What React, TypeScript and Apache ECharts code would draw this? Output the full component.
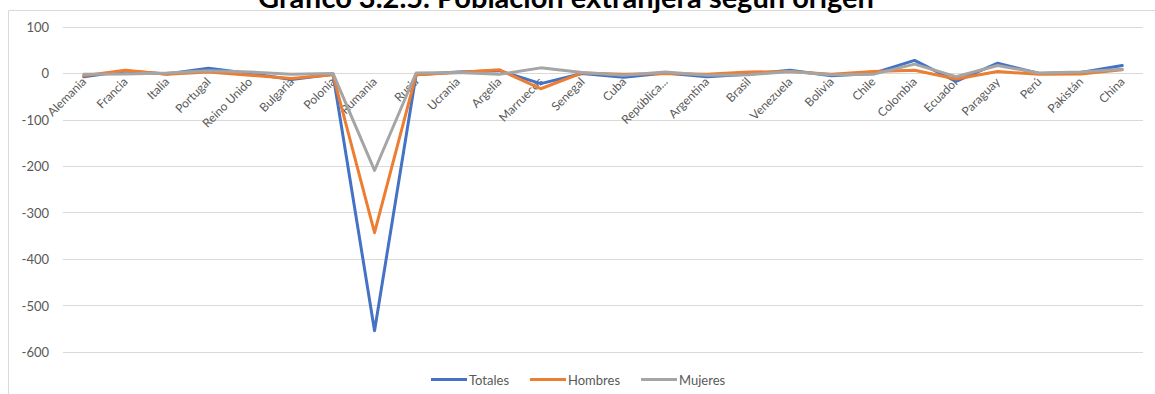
import React, { useEffect, useRef } from "react";
import * as echarts from "echarts";

const categories = [
  "Alemania", "Francia", "Italia", "Portugal", "Reino Unido", "Bulgaria", "Polonia",
  "Rumania", "Rusia", "Ucrania", "Argelia", "Marruecos", "Senegal", "Cuba",
  "República...", "Argentina", "Brasil", "Venezuela", "Bolivia", "Chile", "Colombia",
  "Ecuador", "Paraguay", "Perú", "Pakistán", "China",
];

const totales = [-7, 5, -1, 11, 0, -13, -2, -554, -3, 3, 6, -22, 0, -8, 1, -7, -2, 7, -5, 0, 28, -17, 22, 0, 2, 17];
const hombres = [-5, 7, -2, 3, -4, -11, -3, -343, -3, 2, 8, -33, 1, -2, 0, -2, 3, 4, -2, 4, 7, -12, 4, -2, -1, 8];
const mujeres = [-2, -1, 1, 6, 3, -2, 0, -209, 1, 2, -2, 12, 2, -4, 3, -4, -3, 4, -3, -2, 20, -7, 17, 1, 3, 9];

const yTicks = { min: -600, max: 100, interval: 100 };
const titleText = "Gráfico 3.2.5. Población extranjera según origen";
const seriesNames = ["Totales", "Hombres", "Mujeres"];
const colors = ["#4472C4", "#ED7D31", "#A5A5A5"];

const GRID_TOP = 27;
const GRID_BOTTOM = 42;
const HEIGHT = 394;

export default function App() {
  const ref = useRef<HTMLDivElement>(null);
  useEffect(() => {
    if (!ref.current) return;
    const chart = echarts.init(ref.current, null, { renderer: "svg" });
    const data = [totales, hombres, mujeres];
    const plotH = HEIGHT - GRID_TOP - GRID_BOTTOM;
    const zeroOffset = -(plotH * (0 - yTicks.min)) / (yTicks.max - yTicks.min);
    chart.setOption({
      animation: false,
      backgroundColor: "#ffffff",
      textStyle: { fontFamily: "Lato" },
      graphic: [
        {
          type: "line",
          shape: { x1: 8.5, y1: 10.5, x2: 1155, y2: 10.5 },
          style: { stroke: "#d9d9d9", lineWidth: 1 },
          z: 0,
        },
        {
          type: "line",
          shape: { x1: 8.5, y1: 10.5, x2: 8.5, y2: 394 },
          style: { stroke: "#d9d9d9", lineWidth: 1 },
          z: 0,
        },
        {
          type: "text",
          x: 566,
          y: -4,
          style: {
            text: titleText,
            font: "bold 29px Lato",
            fill: "#000000",
            align: "center",
            verticalAlign: "middle",
          },
          z: 10,
        },
      ],
      grid: {
        left: 63,
        right: 12,
        top: GRID_TOP,
        bottom: GRID_BOTTOM,
        containLabel: false,
        outerBoundsMode: "none",
      },
      legend: {
        data: seriesNames,
        left: 426,
        top: 368,
        icon: "rect",
        itemWidth: 36,
        itemHeight: 3,
        itemGap: 21,
        textStyle: { color: "#595959", fontSize: 13, fontFamily: "Lato", padding: [0, 0, 0, -3] },
      },
      xAxis: {
        type: "category",
        data: categories,
        boundaryGap: true,
        offset: zeroOffset,
        axisLine: { show: false, onZero: false },
        axisTick: { show: false },
        axisLabel: {
          interval: 0,
          rotate: 45,
          color: "#595959",
          fontSize: 12,
          fontFamily: "Lato",
          margin: 6,
        },
      },
      yAxis: {
        type: "value",
        min: yTicks.min,
        max: yTicks.max,
        interval: yTicks.interval,
        axisLine: { show: false },
        axisTick: { show: false },
        axisLabel: { color: "#595959", fontSize: 13, fontFamily: "Lato", margin: 14 },
        splitLine: { lineStyle: { color: "#d9d9d9", width: 1 } },
      },
      series: seriesNames.map((name, i) => ({
        name,
        type: "line",
        data: data[i],
        symbol: "none",
        color: colors[i],
        lineStyle: { color: colors[i], width: 3, cap: "round", join: "round" },
        z: 2 + i,
      })),
    });
    return () => chart.dispose();
  }, []);
  return (
    <div
      ref={ref}
      style={{ position: "fixed", left: 0, top: 0, width: 1155, height: 394, background: "#fff" }}
    />
  );
}
